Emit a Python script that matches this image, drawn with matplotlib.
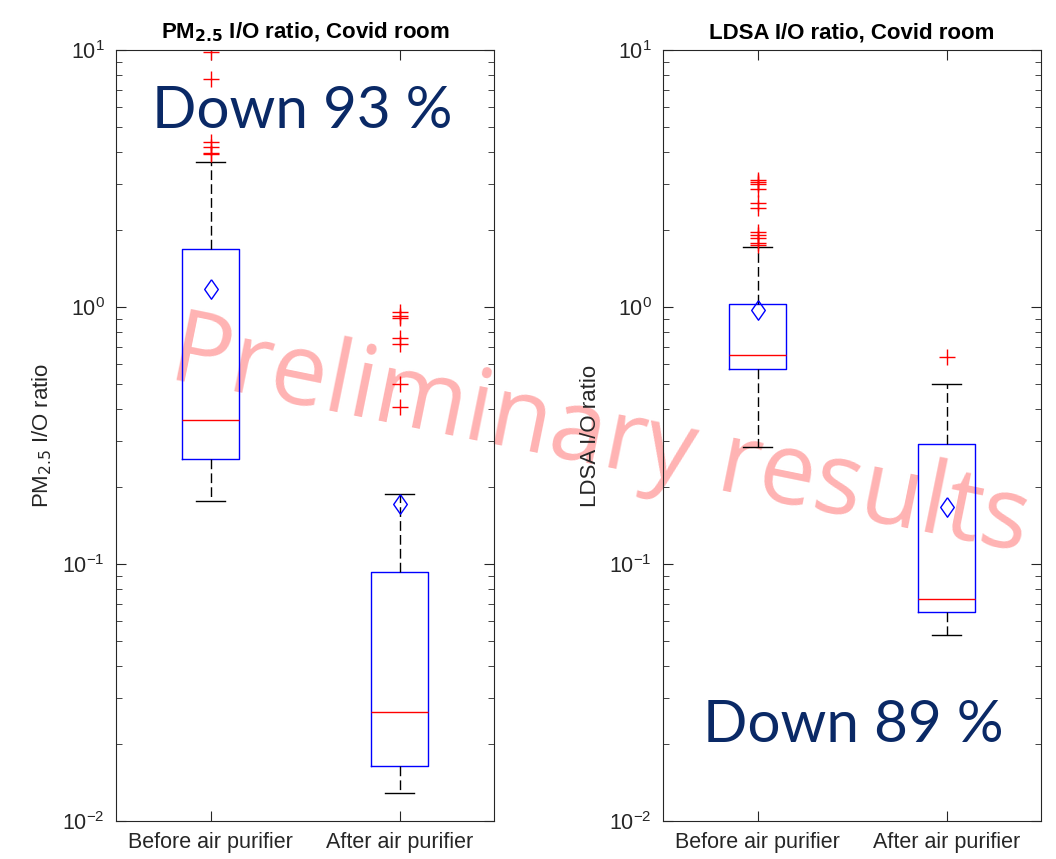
import matplotlib
matplotlib.use("Agg")
import matplotlib.pyplot as plt
import numpy as np

BLUE = (0, 0, 1)
RED = (1, 0, 0)
AXCOL = (0.15, 0.15, 0.15)
NAVY = (0.04, 0.16, 0.40)

labels = ['Before air purifier', 'After air purifier']

# PM2.5 I/O ratio box statistics
pm_q1 = [0.256, 0.0164]
pm_med = [0.363, 0.0265]
pm_q3 = [1.68, 0.0928]
pm_whislo = [0.176, 0.0128]
pm_whishi = [3.66, 0.188]
pm_mean = [1.18, 0.171]
pm_fliers = [[9.8, 7.7, 4.40, 4.20, 3.98, 3.93],
             [0.96, 0.92, 0.91, 0.755, 0.72, 0.50, 0.41]]

# LDSA I/O ratio box statistics
ldsa_q1 = [0.574, 0.065]
ldsa_med = [0.65, 0.0731]
ldsa_q3 = [1.027, 0.293]
ldsa_whislo = [0.286, 0.0528]
ldsa_whishi = [1.71, 0.50]
ldsa_mean = [0.973, 0.167]
ldsa_fliers = [[3.12, 3.06, 3.0, 2.87, 2.53, 2.42, 1.96, 1.91, 1.85, 1.77, 1.74],
               [0.637]]

plt.rcParams['font.family'] = ['Liberation Sans', 'DejaVu Sans']

# MATLAB-like diamond (a bit wider than matplotlib's thin diamond)
DIAMOND = [(0, 1), (0.7, 0), (0, -1), (-0.7, 0), (0, 1)]


def make_stats(q1, med, q3, lo, hi, mean, fliers):
    return [dict(q1=q1[i], med=med[i], q3=q3[i], whislo=lo[i], whishi=hi[i],
                 mean=mean[i], fliers=fliers[i], label=labels[i])
            for i in range(len(labels))]


def draw_panel(ax, stats, title, ylabel):
    ax.set_facecolor('none')
    ax.bxp(stats, positions=[1, 2], widths=0.30, capwidths=0.15,
           showmeans=True, showfliers=True,
           boxprops=dict(color=BLUE, lw=1.0),
           medianprops=dict(color=RED, lw=1.0),
           whiskerprops=dict(color='black', lw=1.0, linestyle=(0, (7, 3))),
           capprops=dict(color='black', lw=1.0),
           meanprops=dict(marker=DIAMOND, markersize=14, markerfacecolor='none',
                          markeredgecolor=BLUE, markeredgewidth=1.0),
           flierprops=dict(marker='+', markersize=11, markeredgecolor=RED,
                           markeredgewidth=1.0, linestyle='none'))
    ax.set_yscale('log')
    ax.set_ylim(1e-2, 1e1)
    ax.set_xlim(0.5, 2.5)
    ax.set_xticks([1, 2])
    ax.set_xticklabels(labels)
    ax.tick_params(which='both', direction='in', top=True, right=True,
                   colors=AXCOL, labelsize=15.5, pad=8)
    ax.tick_params(which='major', length=7)
    ax.tick_params(which='minor', length=4)
    for sp in ax.spines.values():
        sp.set_edgecolor(AXCOL)
    ax.set_title(title, fontsize=16, fontweight='bold', pad=8)
    ax.set_ylabel(ylabel, fontsize=16, color=AXCOL, labelpad=6)


fig = plt.figure(figsize=(10.56, 8.59), dpi=100)
ax1 = fig.add_axes([116 / 1056, 38 / 859, 378 / 1056, 771 / 859])
ax2 = fig.add_axes([663 / 1056, 38 / 859, 378 / 1056, 771 / 859])

draw_panel(ax1, make_stats(pm_q1, pm_med, pm_q3, pm_whislo, pm_whishi, pm_mean, pm_fliers),
           r'PM$_{\mathbf{2.5}}$ I/O ratio, Covid room', r'PM$_{2.5}$ I/O ratio')
draw_panel(ax2, make_stats(ldsa_q1, ldsa_med, ldsa_q3, ldsa_whislo, ldsa_whishi, ldsa_mean, ldsa_fliers),
           'LDSA I/O ratio, Covid room', 'LDSA I/O ratio')

# watermark behind axes
fig.text(0.568, 0.489, 'Preliminary results', fontsize=72, family='Open Sans',
         color=(1.0, 0.70, 0.70), rotation=-11.5, ha='center', va='center',
         rotation_mode='anchor', zorder=-5)

ax1.text(152 / 1056, 1 - 128 / 859, 'Down 93 %', transform=fig.transFigure,
         fontsize=42, family='Lato', fontweight='normal', color=NAVY,
         ha='left', va='baseline')
ax2.text(703 / 1056, 1 - 742 / 859, 'Down 89 %', transform=fig.transFigure,
         fontsize=42, family='Lato', fontweight='normal', color=NAVY,
         ha='left', va='baseline')

fig.savefig('out.png', dpi=100)
